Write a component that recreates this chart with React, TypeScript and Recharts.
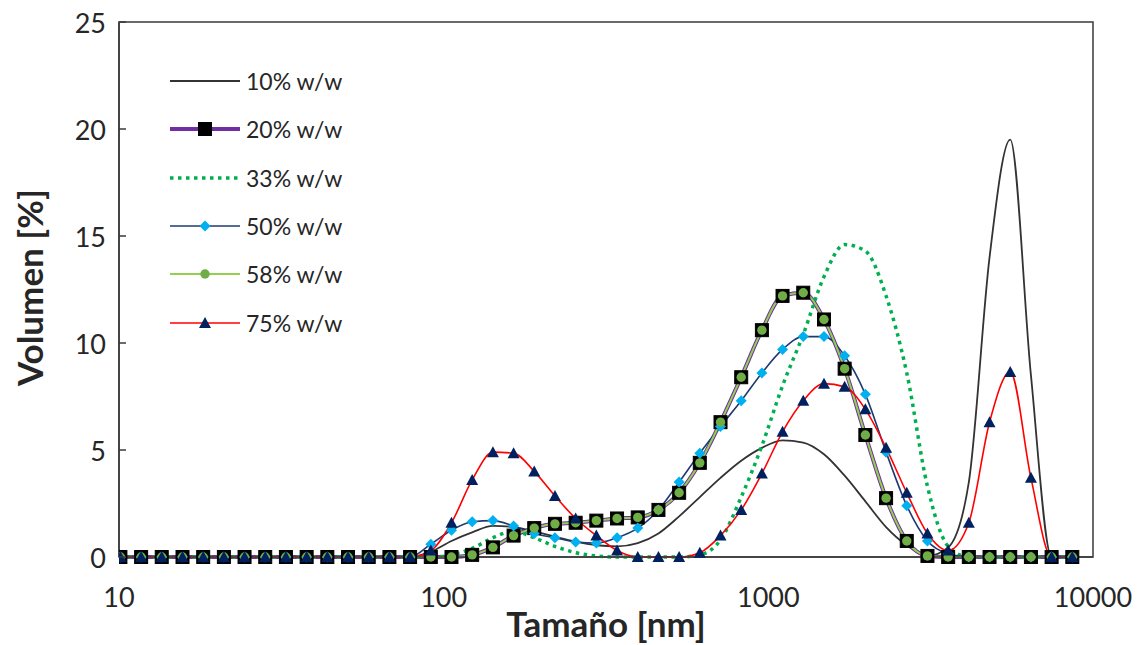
import React from "react";
import { LineChart, Line, XAxis, YAxis, ReferenceArea } from "recharts";

// Tamaño de partícula (nm), clases del equipo
const sizes = [10.1, 11.7, 13.54, 15.69, 18.17, 21.04, 24.36, 28.21, 32.67, 37.84, 43.82, 50.75, 58.77, 68.06, 78.82,
  91.28, 105.7, 122.4, 141.8, 164.2, 190.1, 220.2, 255.0, 295.3, 342.0, 396.1, 458.7, 531.2, 615.1, 712.4, 825.0,
  955.4, 1106, 1281, 1484, 1718, 1990, 2305, 2669, 3091, 3580, 4145, 4801, 5560, 6439, 7456, 8635];

const zeros = [0, 0, 0, 0, 0, 0, 0, 0, 0, 0, 0, 0, 0, 0, 0];

const s10 = [...zeros, 0.25, 0.75, 1.15, 1.45, 1.4, 1.2, 0.95, 0.72, 0.55, 0.5, 0.65, 1.1, 1.9, 2.8, 3.7, 4.5,
  5.1, 5.45, 5.35, 4.8, 3.8, 2.6, 1.4, 0.55, 0.05, 0.45, 3.5, 14.0, 19.5, 8.5, 0, 0];
const s20 = [...zeros, 0, 0, 0.1, 0.45, 1.0, 1.35, 1.55, 1.6, 1.7, 1.8, 1.85, 2.2, 3.0, 4.4, 6.3, 8.4,
  10.6, 12.2, 12.35, 11.1, 8.8, 5.7, 2.75, 0.75, 0.05, 0, 0, 0, 0, 0, 0, 0];
const s33 = [...zeros, 0, 0.1, 0.4, 0.9, 1.2, 0.9, 0.5, 0.2, 0.05, 0, 0, 0, 0, 0.1, 0.8, 2.8,
  5.2, 8.0, 10.4, 13.1, 14.6, 14.3, 12.2, 8.6, 3.3, 0.5, 0, 0, 0, 0, 0, 0];
const s50 = [...zeros, 0.6, 1.25, 1.65, 1.7, 1.45, 1.1, 0.9, 0.7, 0.65, 0.9, 1.35, 2.2, 3.5, 4.85, 6.1, 7.3,
  8.6, 9.7, 10.3, 10.3, 9.4, 7.6, 4.9, 2.4, 0.75, 0.15, 0, 0, 0, 0, 0, 0];
const s58 = [...zeros, 0, 0, 0.1, 0.45, 1.0, 1.35, 1.55, 1.6, 1.7, 1.8, 1.85, 2.2, 3.0, 4.4, 6.3, 8.4,
  10.6, 12.2, 12.35, 11.1, 8.8, 5.7, 2.75, 0.75, 0.05, 0, 0, 0, 0, 0, 0, 0];
const s75 = [...zeros, 0.3, 1.6, 3.6, 4.9, 4.85, 4.0, 2.85, 1.8, 1.0, 0.3, 0, 0, 0, 0.2, 1.0, 2.2,
  3.9, 5.85, 7.3, 8.1, 7.95, 6.9, 5.1, 3.0, 1.1, 0.3, 1.6, 6.3, 8.65, 3.7, 0, 0];

const xTicks = [10, 100, 1000, 10000];
const yTicks = [0, 5, 10, 15, 20, 25];
const labels = ["10% w/w", "20% w/w", "33% w/w", "50% w/w", "58% w/w", "75% w/w"];

const data = sizes.map((size, i) => ({
  size,
  s10: s10[i],
  s20: s20[i],
  s33: s33[i],
  s50: s50[i],
  s58: s58[i],
  s75: s75[i],
}));

const FONT = "Lato, 'Open Sans', sans-serif";
const TEXT = "#262626";
const AXIS = "#3a3a3a";

const Square = (cx: number, cy: number) => (
  <rect x={cx - 6.5} y={cy - 6.5} width={13} height={13} fill="#000" stroke="#000" />
);
const Circle = (cx: number, cy: number) => <circle cx={cx} cy={cy} r={4.7} fill="#70AD47" />;
const Diamond = (cx: number, cy: number) => (
  <path d={`M${cx},${cy - 5.5}L${cx + 5.5},${cy}L${cx},${cy + 5.5}L${cx - 5.5},${cy}Z`} fill="#00B0F0" />
);
const Triangle = (cx: number, cy: number) => (
  <path d={`M${cx},${cy - 6}L${cx + 6},${cy + 5}L${cx - 6},${cy + 5}Z`} fill="#002060" />
);

const dotOf = (shape: (cx: number, cy: number) => React.ReactElement) => (p: any) => {
  if (p.cx == null || p.cy == null) return <g key={`n-${p.index}`} />;
  return <g key={`d-${p.index}`}>{shape(p.cx, p.cy)}</g>;
};

const series = [
  { key: "s10", color: "#333333", width: 1.8, dash: undefined, marker: null },
  { key: "s20", color: "#7030A0", width: 4, dash: undefined, marker: Square },
  { key: "s33", color: "#00B050", width: 3.5, dash: "3.5 4.5", marker: null },
  { key: "s50", color: "#1F3A70", width: 1.6, dash: undefined, marker: Diamond },
  { key: "s58", color: "#92D050", width: 2, dash: undefined, marker: Circle },
  { key: "s75", color: "#FF0000", width: 1.6, dash: undefined, marker: Triangle },
];

const YTick = (props: any) => {
  const { x, y, payload } = props;
  return (
    <g>
      <line x1={x + 13} x2={x + 20} y1={y} y2={y} stroke={AXIS} strokeWidth={1.5} />
      <text x={x} y={y} textAnchor="end" dominantBaseline="central" fontSize={27} fontFamily={FONT} fill={TEXT}>
        {payload.value}
      </text>
    </g>
  );
};

const XTick = (props: any) => {
  const { x, y, payload } = props;
  return (
    <text x={x} y={y} dy={19} textAnchor="middle" fontSize={27} fontFamily={FONT} fill={TEXT}>
      {payload.value}
    </text>
  );
};

function LegendBox() {
  return (
    <div style={{ position: "absolute", left: 170, top: 57, fontFamily: FONT }}>
      {series.map((s, i) => (
        <div key={s.key} style={{ display: "flex", alignItems: "center", height: 48.3 }}>
          <svg width={70} height={20} style={{ display: "block" }}>
            <line x1={0} x2={70} y1={10} y2={10} stroke={s.color} strokeWidth={s.width} strokeDasharray={s.dash} />
            {s.marker ? s.marker(35, 10) : null}
          </svg>
          <span style={{ marginLeft: 6, fontSize: 23, color: TEXT, lineHeight: "22px" }}>{labels[i]}</span>
        </div>
      ))}
    </div>
  );
}

export default function App() {
  return (
    <div style={{ position: "absolute", left: 0, top: 0, width: 1144, height: 645, background: "#fff" }}>
      <LineChart width={1144} height={645} data={data} margin={{ top: 22, right: 51, bottom: 0, left: 0 }}>
        <ReferenceArea x1={10} x2={10000} y1={0} y2={25} fill="none" stroke={AXIS} strokeWidth={1.5} />
        <XAxis
          dataKey="size"
          type="number"
          scale="log"
          domain={[10, 10000]}
          ticks={xTicks}
          allowDataOverflow
          height={88}
          tickSize={0}
          tickMargin={31}
          tick={<XTick />}
          axisLine={{ stroke: AXIS, strokeWidth: 1.5 }}
          tickLine={false}
          label={{
            content: ({ viewBox }: any) => (
              <text x={viewBox.x + viewBox.width / 2} y={viewBox.y + 80} textAnchor="middle"
                fontSize={35} fontWeight={700} fontFamily={FONT} fill={TEXT}>
                Tamaño [nm]
              </text>
            ),
          }}
        />
        <YAxis
          type="number"
          domain={[0, 25]}
          ticks={yTicks}
          width={119}
          tickSize={0}
          tickMargin={13}
          tick={<YTick />}
          axisLine={{ stroke: AXIS, strokeWidth: 1.5 }}
          tickLine={false}
          label={{
            content: ({ viewBox }: any) => {
              const cx = viewBox.x + 29;
              const cy = viewBox.y + viewBox.height / 2 - 2;
              return (
                <text x={cx} y={cy} transform={`rotate(-90 ${cx} ${cy})`} textAnchor="middle" dominantBaseline="central"
                  fontSize={35} fontWeight={700} fontFamily={FONT} fill={TEXT}>
                  Volumen [%]
                </text>
              );
            },
          }}
        />
        {series.map((s) => (
          <Line
            key={s.key}
            dataKey={s.key}
            type="monotone"
            stroke={s.color}
            strokeWidth={s.width}
            strokeDasharray={s.dash}
            dot={s.marker ? dotOf(s.marker) : false}
            activeDot={false}
            isAnimationActive={false}
          />
        ))}
      </LineChart>
      <LegendBox />
    </div>
  );
}
